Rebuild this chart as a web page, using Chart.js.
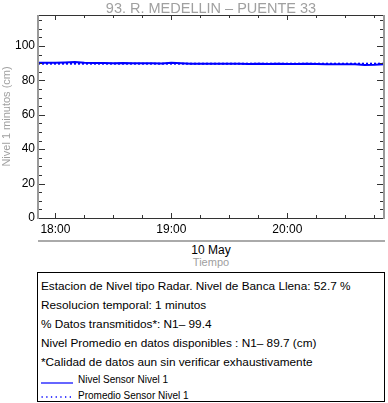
<!DOCTYPE html>
<html>
<head>
<meta charset="utf-8">
<script src="https://cdn.jsdelivr.net/npm/chart.js@4.4.1/dist/chart.umd.min.js"></script>
<style>
  html, body { margin:0; padding:0; background:#fff; }
  body { width:388px; height:403px; position:relative; overflow:hidden; font-family:"Liberation Sans", Arial, sans-serif; }
  #wrap { position:absolute; left:0; top:0; width:388px; height:240px; }
  .abs { position:absolute; white-space:nowrap; }
  #title { left:38px; width:346px; top:0px; text-align:center; font-size:14.5px; color:#a0a0a0; line-height:16px; }
  #sep { left:38px; top:240px; width:347px; height:2px; background:#aaaaaa; }
  #date { left:38px; width:346px; top:243px; text-align:center; font-size:12px; color:#000; line-height:14px; }
  #xlab { left:38px; width:346px; top:256px; text-align:center; font-size:11px; color:#a0a0a0; line-height:13px; }
  #box { left:37px; top:272px; width:346px; height:128px; border:1px solid #000; }
  #box .ln { position:absolute; left:3px; font-size:11.8px; line-height:15px; color:#000; }
  #box .lg { position:absolute; left:40px; font-size:10px; line-height:12px; color:#000; }
  #box svg { position:absolute; left:3px; }
</style>
</head>
<body>
<div id="wrap"><canvas id="c" width="388" height="240"></canvas></div>
<div class="abs" id="title">93. R. MEDELLIN – PUENTE 33</div>
<div class="abs" id="sep"></div>
<div class="abs" id="date">10 May</div>
<div class="abs" id="xlab">Tiempo</div>
<div class="abs" id="box">
  <div class="ln" style="top:6px">Estacion de Nivel tipo Radar. Nivel de Banca Llena: 52.7 %</div>
  <div class="ln" style="top:25px">Resolucion temporal: 1 minutos</div>
  <div class="ln" style="top:44px">% Datos transmitidos*: N1– 99.4</div>
  <div class="ln" style="top:63px">Nivel Promedio en datos disponibles : N1– 89.7 (cm)</div>
  <div class="ln" style="top:82px">*Calidad de datos aun sin verificar exhaustivamente</div>
  <svg style="top:108px" width="34" height="4"><line x1="0" y1="2" x2="32" y2="2" stroke="#0000ff" stroke-width="1.2"/></svg>
  <div class="lg" style="top:101px">Nivel Sensor Nivel 1</div>
  <svg style="top:122px" width="34" height="4"><line x1="0.5" y1="2" x2="33" y2="2" stroke="#0000ff" stroke-width="1.3" stroke-dasharray="1.3 3.4"/></svg>
  <div class="lg" style="top:117px">Promedio Sensor Nivel 1</div>
</div>
<script>
// minutes relative to 18:00 on 10 May
const minutes = [-9,-5,0,5,10,15,20,25,30,35,40,45,50,55,60,65,70,75,80,85,90,95,100,105,110,115,120,125,130,135,140,145,150,155,160,165,170];
const levels  = [90.3,90.3,90.2,90.4,90.7,90.3,90.1,90.1,90.0,90.1,90.0,90.0,89.9,89.8,90.2,89.9,89.7,89.6,89.6,89.6,89.6,89.6,89.5,89.6,89.5,89.6,89.5,89.5,89.6,89.5,89.4,89.4,89.4,89.3,89.0,89.1,89.4];
const meanLevel = 89.7;
const xTickValues = [0, 60, 120];
const xTickLabels = ['18:00', '19:00', '20:00'];
const yTickValues = [0, 20, 40, 60, 80, 100];
const xMin = -9, xMax = 170, yMin = 0, yMax = 118;

const seriesPts = minutes.map((m, i) => ({x: m, y: levels[i]}));
const meanPts = [{x: xMin, y: meanLevel}, {x: xMax, y: meanLevel}];

const framePlugin = {
  id: 'frame',
  afterDatasetsDraw(chart) {
    const {ctx, chartArea: a, scales: {x, y}} = chart;
    ctx.save();
    ctx.lineWidth = 1;
    ctx.strokeStyle = '#333';
    for (let v = 0; v <= 115; v += 5) {
      const py = Math.round(y.getPixelForValue(v)) + 0.5;
      const len = (v % 20 === 0) ? 7 : 4;
      ctx.beginPath();
      ctx.moveTo(a.left, py); ctx.lineTo(a.left + len, py);
      ctx.moveTo(a.right, py); ctx.lineTo(a.right - len, py);
      ctx.stroke();
    }
    for (let m = 0; m <= 165; m += 15) {
      const px = Math.round(x.getPixelForValue(m)) + 0.5;
      const len = (m % 60 === 0) ? 5 : 3;
      ctx.beginPath();
      ctx.moveTo(px, a.bottom); ctx.lineTo(px, a.bottom - len);
      ctx.moveTo(px, a.top); ctx.lineTo(px, a.top + len);
      ctx.stroke();
    }
    ctx.strokeStyle = '#333';
    ctx.lineWidth = 1;
    ctx.beginPath();
    ctx.moveTo(a.left, Math.round(a.top) + 0.5); ctx.lineTo(a.right, Math.round(a.top) + 0.5);
    ctx.moveTo(a.left, Math.round(a.bottom) + 0.5); ctx.lineTo(a.right, Math.round(a.bottom) + 0.5);
    ctx.stroke();
    ctx.strokeStyle = '#999';
    ctx.lineWidth = 2;
    ctx.beginPath();
    ctx.moveTo(Math.round(a.left), a.top); ctx.lineTo(Math.round(a.left), a.bottom + 1);
    ctx.moveTo(Math.round(a.right), a.top); ctx.lineTo(Math.round(a.right), a.bottom + 1);
    ctx.stroke();
    ctx.restore();
  }
};

new Chart(document.getElementById('c'), {
  type: 'line',
  data: {
    datasets: [
      { label: 'Nivel Sensor Nivel 1', data: seriesPts, borderColor: '#0000ff', borderWidth: 2, pointRadius: 0, tension: 0 },
      { label: 'Promedio Sensor Nivel 1', data: meanPts, borderColor: '#0000ff', borderWidth: 2, borderDash: [2, 2], pointRadius: 0 }
    ]
  },
  options: {
    responsive: false,
    animation: false,
    layout: { padding: { top: 15, right: 4, left: 0, bottom: 0 } },
    plugins: { legend: { display: false }, tooltip: { enabled: false }, title: { display: false } },
    scales: {
      x: {
        type: 'linear', min: xMin, max: xMax,
        grid: { display: false, drawTicks: false },
        border: { display: false },
        afterBuildTicks: s => { s.ticks = xTickValues.map(v => ({value: v})); },
        afterFit: s => { s.height = 22; },
        ticks: {
          padding: 4, maxRotation: 0, autoSkip: false,
          color: '#000', font: { family: 'Liberation Sans', size: 12 },
          callback: v => xTickLabels[xTickValues.indexOf(v)] || ''
        }
      },
      y: {
        min: yMin, max: yMax,
        grid: { display: false, drawTicks: false },
        border: { display: false },
        afterBuildTicks: s => { s.ticks = yTickValues.map(v => ({value: v})); },
        afterFit: s => { s.width = 38; },
        title: { display: true, text: 'Nivel 1 minutos (cm)', color: '#a0a0a0', font: { family: 'Liberation Sans', size: 11 }, padding: { top: 0, bottom: 0 } },
        ticks: { padding: 3, color: '#000', font: { family: 'Liberation Sans', size: 12 } }
      }
    }
  },
  plugins: [framePlugin]
});
</script>
</body>
</html>
